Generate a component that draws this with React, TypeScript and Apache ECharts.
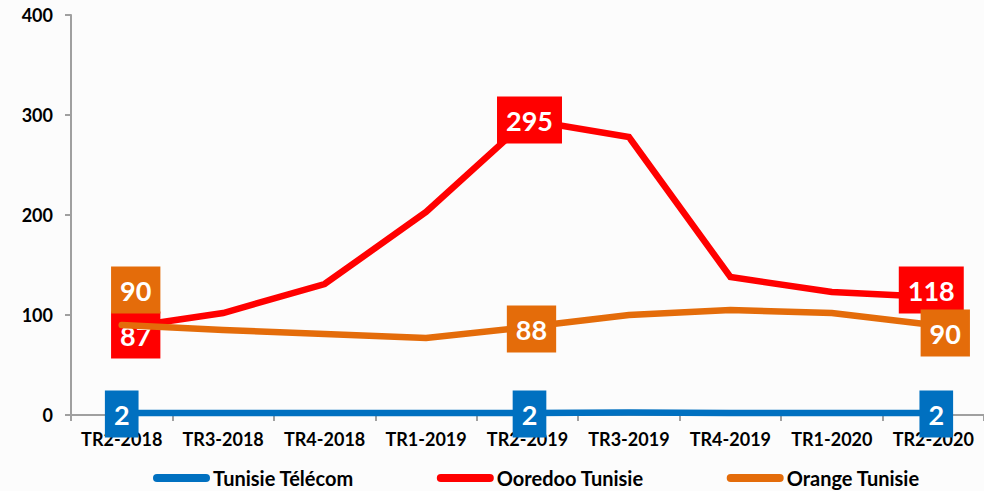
import React, { useEffect, useRef } from "react";
import * as echarts from "echarts";

const categories = ["TR2-2018", "TR3-2018", "TR4-2018", "TR1-2019", "TR2-2019", "TR3-2019", "TR4-2019", "TR1-2020", "TR2-2020"];
const seriesNames = ["Tunisie Télécom", "Ooredoo Tunisie", "Orange Tunisie"];
const tunisieTelecom = [2, 2, 2, 2, 2, 2.5, 2, 2, 2];
const ooredoo = [87, 102, 131, 203, 295, 278, 138, 123, 118];
const orange = [90, 85, 81, 77, 88, 100, 105, 102, 90];
const yTicks = [0, 100, 200, 300, 400];

const colors = ["#0070C0", "#FF0000", "#E46C0A"];
// label offsets per series for labelled points (index -> [dx, dy])
const labelOffsets: Record<number, [number, number]>[] = [
  { 0: [0, 1], 4: [2, 1], 8: [3, 1] },
  { 0: [14, 7], 4: [2, 0], 8: [-2, -7] },
  { 0: [14, -35], 4: [4, 2], 8: [12, 8] },
];

const FONT = "Lato";

export default function App() {
  const ref = useRef<HTMLDivElement>(null);
  useEffect(() => {
    if (!ref.current) return;
    const chart = echarts.init(ref.current, undefined, { renderer: "svg" });
    const all = [tunisieTelecom, ooredoo, orange];
    const series = all.map((vals, si) => ({
      name: seriesNames[si],
      type: "line",
      symbol: "circle",
      symbolSize: 1,
      showSymbol: true,
      lineStyle: { width: 6.5, color: colors[si], cap: "round", join: "miter" },
      itemStyle: { color: colors[si] },
      z: 2 + si,
      label: { show: false },
      data: vals.map((v, i) => {
        const off = labelOffsets[si][i];
        if (!off) return v;
        const shown = si === 0 ? 2 : v;
        return {
          value: v,
          label: {
            show: true,
            position: "inside",
            offset: off,
            formatter: String(shown),
            color: "#fff",
            fontFamily: FONT,
            fontWeight: "bold",
            fontSize: 27,
            lineHeight: 29,
            backgroundColor: colors[si],
            padding: [9, 9, 9, 9],
          },
        };
      }),
    }));
    chart.setOption({
      animation: false,
      backgroundColor: "#FCFCFC",
      textStyle: { fontFamily: FONT },
      grid: { left: 71, top: 15, width: 920, height: 400, containLabel: false },
      legend: {
        left: 153,
        top: 467,
        padding: 0,
        itemGap: 83,
        itemWidth: 57,
        itemHeight: 8,
        icon: "path://M4,0 H53 A4,4 0 0 1 53,8 H4 A4,4 0 0 1 4,0 Z",
        textStyle: { fontFamily: FONT, fontWeight: "bold", fontSize: 20, lineHeight: 22, color: "#000", padding: [0, 0, 0, -2] },
        data: seriesNames,
      },
      xAxis: {
        type: "category",
        data: categories,
        boundaryGap: true,
        axisLine: { lineStyle: { color: "#A0A0A0", width: 2 } },
        axisTick: { show: true, length: 6, lineStyle: { color: "#A0A0A0", width: 2 } },
        axisLabel: { fontFamily: FONT, fontWeight: "bold", fontSize: 18, color: "#000", margin: 15, interval: 0 },
      },
      yAxis: {
        type: "value",
        min: yTicks[0],
        max: yTicks[yTicks.length - 1],
        interval: 100,
        axisLine: { show: true, lineStyle: { color: "#A0A0A0", width: 2 } },
        axisTick: { show: true, length: 6, lineStyle: { color: "#A0A0A0", width: 2 } },
        splitLine: { show: false },
        axisLabel: { fontFamily: FONT, fontWeight: "bold", fontSize: 18, color: "#000", margin: 18 },
      },
      series,
    });
    return () => chart.dispose();
  }, []);
  return <div ref={ref} style={{ position: "fixed", left: 0, top: 0, width: 984, height: 491 }} />;
}
